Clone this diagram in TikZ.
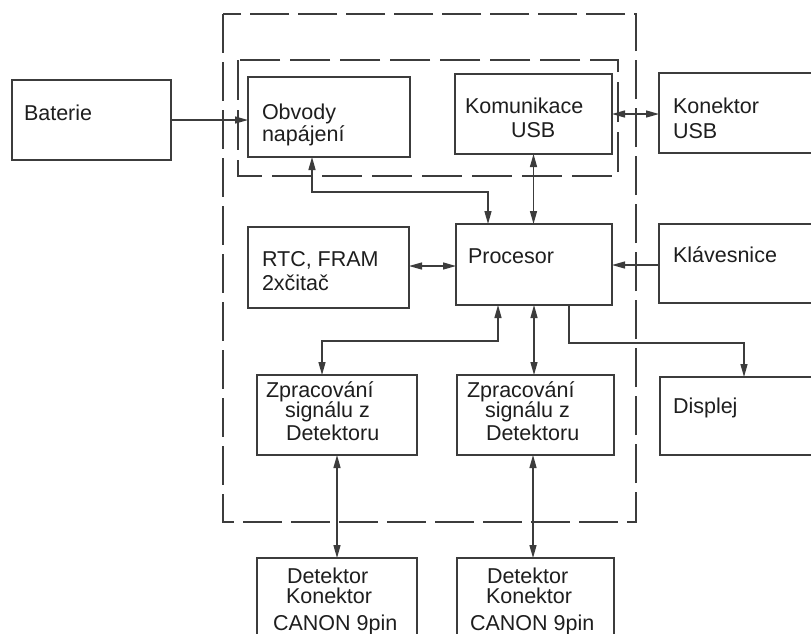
\documentclass[tikz,border=0pt]{standalone}
\usepackage{fontspec}
\setmainfont{Liberation Sans}
\usetikzlibrary{arrows.meta}
\definecolor{linec}{HTML}{3C3C3C}
\definecolor{txtc}{HTML}{1E1E1E}
\tikzset{
  box/.style={draw=linec, line width=1.3pt, inner sep=0pt, outer sep=0pt, rectangle},
  lbl/.style={anchor=base west, inner sep=0pt, outer sep=0pt, text=txtc, font=\fontsize{21.5}{24}\selectfont},
  conn/.style={draw=linec, line width=1.3pt},
  arr/.style={conn, -{Triangle[length=13pt,width=7pt]}},
  darr/.style={conn, {Triangle[length=13pt,width=7pt]}-{Triangle[length=13pt,width=7pt]}},
  outerdash/.style={draw=linec, line width=1.5pt, dash pattern=on 39pt off 9pt},
  innerdash/.style={draw=linec, line width=1.5pt, dash pattern=on 40pt off 10pt}
}
\begin{document}
\begin{tikzpicture}[x=1pt, y=-1pt]
\useasboundingbox (0,0) rectangle (811,633);
\clip (0,0) rectangle (811,633);
\fill[white] (0,0) rectangle (811,633);

% dashed frames
\draw[outerdash] (223,14) rectangle (636,522);
\draw[innerdash] (238,60) rectangle (618,176);

% boxes
\node[box, minimum width=159pt, minimum height=80pt] (bat) at (91.5,120) {};
\node[box, minimum width=162pt, minimum height=80pt] (obv) at (329,117) {};
\node[box, minimum width=157pt, minimum height=80pt] (kom) at (533.5,114) {};
\node[box, minimum width=171pt, minimum height=80pt] (kon) at (744.5,113) {};
\node[box, minimum width=161pt, minimum height=81pt] (rtc) at (328.5,267.5) {};
\node[box, minimum width=156pt, minimum height=81pt] (proc) at (534,264.5) {};
\node[box, minimum width=171pt, minimum height=79pt] (klav) at (744.5,263.5) {};
\node[box, minimum width=160pt, minimum height=80pt] (zpa) at (337,415) {};
\node[box, minimum width=157pt, minimum height=80pt] (zpb) at (535.5,415) {};
\node[box, minimum width=170pt, minimum height=78pt] (disp) at (745,416) {};
\node[box, minimum width=160pt, minimum height=92pt] (deta) at (337,604) {};
\node[box, minimum width=157pt, minimum height=92pt] (detb) at (535.5,604) {};

% texts
\node[lbl] (t1) at (24,120) {Baterie};
\node[lbl] (t2) at (262,119) {Obvody};
\node[lbl] (t3) at (262,141) {napájení};
\node[lbl] (t4) at (465,113) {Komunikace};
\node[lbl] (t5) at (511,137) {USB};
\node[lbl] (t6) at (673,113) {Konektor};
\node[lbl] (t7) at (673,138) {USB};
\node[lbl] (t8) at (262,266) {RTC, FRAM};
\node[lbl] (t9) at (262,290) {2xčitač};
\node[lbl] (t10) at (468,263) {Procesor};
\node[lbl] (t11) at (673,262) {Klávesnice};
\node[lbl] (t12) at (266,397) {Zpracování};
\node[lbl] (t13) at (285,417) {signálu z};
\node[lbl] (t14) at (286,440) {Detektoru};
\node[lbl] (t15) at (467,397) {Zpracování};
\node[lbl] (t16) at (485,417) {signálu z};
\node[lbl] (t17) at (486,440) {Detektoru};
\node[lbl] (t18) at (673,413) {Displej};
\node[lbl] (t19) at (287,583) {Detektor};
\node[lbl] (t20) at (286,603) {Konektor};
\node[lbl] (t21) at (273,630) {CANON 9pin};
\node[lbl] (t22) at (487,583) {Detektor};
\node[lbl] (t23) at (486,603) {Konektor};
\node[lbl] (t24) at (470,630) {CANON 9pin};

% helper coordinates
\coordinate (pa) at (488,192);
\coordinate (pb) at (312,192);
\coordinate (yr) at (0,266);
\coordinate (yk) at (0,265);
\coordinate (qa) at (498,341);
\coordinate (qb) at (322,341);
\coordinate (xz) at (534,0);
\coordinate (ra) at (569,343);
\coordinate (rb) at (744,343);
\coordinate (xd) at (533,0);

% connectors
\draw[arr] (bat.east) -- (bat.east -| obv.west);
\draw[darr] (kom.east) -- (kom.east -| kon.west);
\draw[darr] (proc.north -| pa) -- (pa) -- (pb) -- (obv.south -| pb);
\draw[darr] (kom.south) -- (kom.south |- proc.north);
\draw[darr] (rtc.east |- yr) -- (proc.west |- yr);
\draw[arr] (klav.west |- yk) -- (proc.east |- yk);
\draw[darr] (proc.south -| qa) -- (qa) -- (qb) -- (zpa.north -| qb);
\draw[darr] (proc.south -| xz) -- (zpb.north -| xz);
\draw[arr] (proc.south -| ra) -- (ra) -- (rb) -- (disp.north -| rb);
\draw[darr] (zpa.south) -- (deta.north);
\draw[darr] (zpb.south -| xd) -- (detb.north -| xd);
\end{tikzpicture}
\end{document}
